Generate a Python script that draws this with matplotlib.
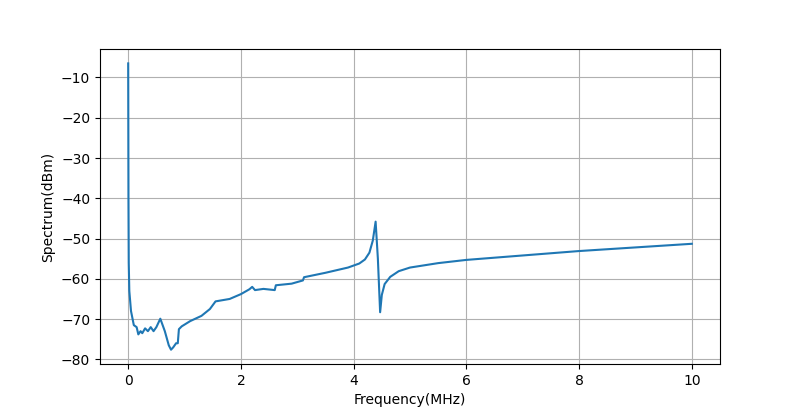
import numpy as np
import matplotlib.pyplot as plt

freq = [0.0, 0.005, 0.01, 0.02, 0.05, 0.1, 0.15, 0.18, 0.22, 0.25, 0.3, 0.35, 0.4, 0.45,
        0.5, 0.57, 0.65, 0.72, 0.76, 0.8, 0.85, 0.88, 0.9, 0.95, 1.1, 1.3, 1.45, 1.55,
        1.8, 2.0, 2.15, 2.2, 2.25, 2.4, 2.6, 2.62, 2.9, 3.1, 3.12, 3.5, 3.9, 4.1, 4.2, 4.28,
        4.34, 4.39, 4.43, 4.47, 4.5, 4.55, 4.65, 4.8, 5.0, 5.5, 6.0, 7.0, 8.0, 9.0, 10.0]
spec = [-6.5, -40, -56, -63, -68, -71.5, -72, -73.8, -73, -73.5, -72.3, -73, -72, -73,
        -72, -69.9, -73, -76.5, -77.6, -77, -76, -76, -72.5, -71.8, -70.5, -69.2, -67.5, -65.6,
        -65, -63.8, -62.6, -62, -62.8, -62.5, -62.8, -61.6, -61.2, -60.4, -59.6, -58.5, -57.2, -56.2, -55.2, -53.5,
        -50.5, -45.8, -55, -68.3, -64, -61.3, -59.5, -58.1, -57.2, -56.1, -55.3, -54.2, -53.1, -52.2, -51.3]

plt.figure(figsize=(8, 4.09))
plt.plot(freq, spec)
plt.xlabel("Frequency(MHz)")
plt.ylabel("Spectrum(dBm)")
plt.grid(True)
plt.savefig("out.png", dpi=100)
